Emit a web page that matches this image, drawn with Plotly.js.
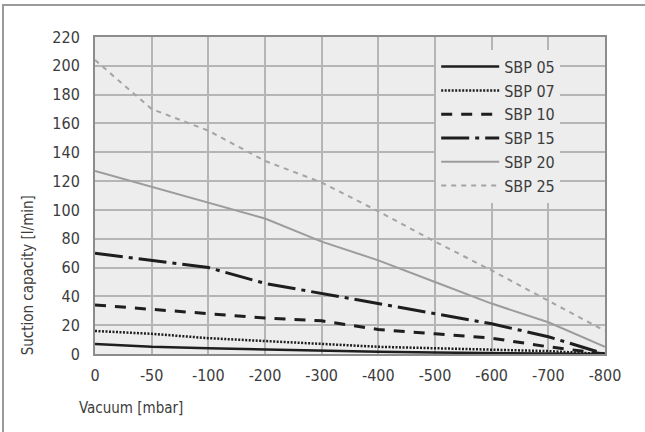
<!DOCTYPE html>
<html>
<head>
<meta charset="utf-8">
<script src="https://cdn.plot.ly/plotly-3.0.1.min.js"></script>
<style>
  html, body { margin: 0; padding: 0; background: #fff; }
  #wrap { position: relative; width: 645px; height: 432px; overflow: hidden; }
  #chart { position: absolute; left: 0; top: 0; width: 645px; height: 432px; }
  #frame { position: absolute; left: 2px; top: 4px; width: 700px; height: 500px;
           border-top: 2px solid #9a9a9a; border-left: 2px solid #9a9a9a;
           pointer-events: none; z-index: 5; }
</style>
</head>
<body>
<div id="wrap"><div id="chart"></div><div id="frame"></div></div>
<script>
const categories = ["0", "-50", "-100", "-200", "-300", "-400", "-500", "-600", "-700", "-800"];
const seriesNames = ["SBP 05", "SBP 07", "SBP 10", "SBP 15", "SBP 20", "SBP 25"];
const sbp05 = [7, 5, 4, 3, 2, 1.5, 1, 0.7, 0.3, 0];
const sbp07 = [16, 14, 11, 9, 7, 5, 4, 3, 2, 0];
const sbp10 = [34, 31, 28, 25, 23, 17, 14, 11, 5, 0];
const sbp15 = [70, 65, 60, 49, 42, 35, 28, 21, 12, 0];
const sbp20 = [127, 116, 105, 94, 78, 65, 50, 35, 22, 5];
const sbp25 = [204, 170, 155, 134, 119, 99, 78, 58, 37, 16];
const yTicks = [0, 20, 40, 60, 80, 100, 120, 140, 160, 180, 200, 220];

const FONT = '"DejaVu Sans Condensed", "DejaVu Sans", sans-serif';
const TXT = '#3c3c3c';

const styles = [
  {color: '#1e1e1e', width: 2.5, dash: 'solid'},
  {color: '#1e1e1e', width: 2.5, dash: '2px,1.5px'},
  {color: '#1e1e1e', width: 3, dash: '11px,9px'},
  {color: '#1e1e1e', width: 3, dash: '28px,6px,4px,6px'},
  {color: '#9c9c9c', width: 2, dash: 'solid'},
  {color: '#a4a4a4', width: 2, dash: '5px,5px'}
];
const allSeries = [sbp05, sbp07, sbp10, sbp15, sbp20, sbp25];

const traces = allSeries.map((ys, i) => ({
  type: 'scatter', mode: 'lines',
  x: categories, y: ys, name: seriesNames[i],
  line: styles[i], hoverinfo: 'skip'
}));

const layout = {
  width: 645, height: 432,
  margin: {l: 95, r: 40, t: 37, b: 78, pad: 0},
  paper_bgcolor: 'rgba(0,0,0,0)',
  plot_bgcolor: '#ededed',
  font: {family: FONT, size: 16, color: TXT},
  showlegend: true,
  legend: {
    x: 0.669, y: 0.96, xanchor: 'left', yanchor: 'top',
    bgcolor: '#ededed', borderwidth: 0,
    font: {family: FONT, size: 16, color: TXT},
    itemwidth: 58, tracegroupgap: 0
  },
  xaxis: {
    type: 'category',
    tickvals: categories, ticktext: categories,
    range: [0, categories.length - 1],
    showgrid: true, gridcolor: '#b5b5b5', gridwidth: 2,
    showline: true, mirror: true, linecolor: '#8c8c8c', linewidth: 2,
    ticks: 'outside', ticklen: 6, tickcolor: 'rgba(0,0,0,0)',
    tickfont: {family: FONT, size: 16, color: TXT},
    zeroline: false, fixedrange: true
  },
  yaxis: {
    range: [0, 220],
    tickvals: yTicks, ticktext: yTicks.map(String),
    showgrid: true, gridcolor: '#b5b5b5', gridwidth: 2,
    showline: true, mirror: true, linecolor: '#8c8c8c', linewidth: 2,
    ticks: 'outside', ticklen: 10, tickcolor: 'rgba(0,0,0,0)',
    tickfont: {family: FONT, size: 16, color: TXT},
    zeroline: false, fixedrange: true
  },
  annotations: [
    {text: 'Suction capacity [l/min]', textangle: -90,
     xref: 'paper', yref: 'paper', x: -0.131, y: -0.01,
     xanchor: 'center', yanchor: 'bottom', showarrow: false,
     font: {family: FONT, size: 15, color: TXT}},
    {text: 'Vacuum [mbar]',
     xref: 'paper', yref: 'paper', x: -0.035, y: -0.17,
     xanchor: 'left', yanchor: 'middle', showarrow: false,
     font: {family: FONT, size: 15, color: TXT}}
  ]
};

Plotly.newPlot('chart', traces, layout, {displayModeBar: false, staticPlot: true});
</script>
</body>
</html>
